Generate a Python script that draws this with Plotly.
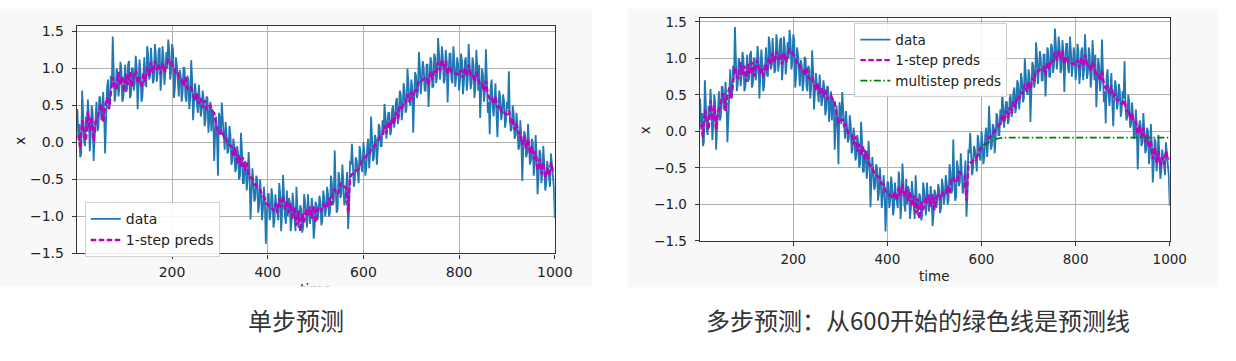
import plotly.graph_objects as go

# ---------------- data ----------------
# values at t = 4, 8, ..., 1000
time_even = list(range(4, 1001, 4))
data_x = [
    0.10, -0.20, 0.70, 0.02, 0.35, 0.58, -0.12, 0.50, -0.25, 0.30,
    0.15, 0.62, 0.30, 0.68, -0.15, 0.72, 0.45, 0.90, 1.43, 0.55,
    1.00, 0.62, 1.09, 0.55, 0.95, 0.68, 1.05, 0.60, 1.00, 0.70,
    1.17, 0.45, 1.12, 0.55, 1.05, 0.78, 1.30, 0.85, 1.28, 0.80,
    1.33, 0.82, 1.25, 0.70, 1.30, 0.78, 1.22, 1.39, 0.85, 1.33,
    0.60, 1.15, 0.70, 0.98, 0.55, 1.02, 0.62, 0.90, 0.45, 1.11,
    0.30, 0.80, 0.45, 0.78, 0.35, 0.70, 0.22, 0.62, 0.13, 0.55,
    0.45, -0.25, 0.35, -0.45, 0.30, 0.54, 0.00, 0.28, -0.15, 0.22,
    -0.30, 0.05, -0.40, -0.05, -0.50, 0.13, -0.55, -0.25, -0.65, -0.13,
    -1.04, -0.35, -0.80, -0.45, -0.95, -0.50, -1.05, -0.60, -1.37, -0.70,
    -1.05, -0.62, -1.15, -0.70, -1.00, -0.55, -1.20, -0.44, -1.00, -0.65,
    -0.75, -1.20, -0.68, -1.10, -0.60, -1.15, -0.85, -1.22, -0.70, -1.05,
    -0.70, -1.10, -0.75, -1.30, -0.80, -1.05, -0.72, -1.12, -0.65, -1.00,
    -0.60, -1.00, -0.45, -0.85, -0.11, -0.95, -0.40, -0.75, -0.30, -0.85,
    -0.55, -1.17, -0.25, -0.02, -0.60, -0.20, -0.45, -0.05, -0.35, 0.00,
    -0.45, -0.05, -0.35, 0.35, -0.25, 0.10, -0.30, 0.25, -0.05, 0.30,
    0.52, 0.05, 0.40, 0.10, 0.45, 0.20, 0.55, 0.25, 0.70, 0.30,
    0.80, 0.40, 1.00, 0.55, 0.85, 0.13, 0.95, 0.60, 1.22, 0.65,
    1.10, 0.70, 1.05, 0.48, 1.15, 0.75, 1.20, 0.80, 1.41, 0.85,
    1.30, 0.80, 1.25, 0.54, 1.20, 0.85, 1.30, 0.75, 1.15, 0.70,
    1.20, 0.65, 1.10, 0.70, 1.33, 0.72, 1.15, 0.60, 1.25, 0.70,
    0.33, 1.00, 0.55, 1.26, 0.40, 0.11, 0.85, 0.35, 0.80, 0.07,
    0.70, 0.30, 0.65, 0.20, 0.55, 0.96, 0.15, 0.50, 0.05, 0.40,
    -0.10, 0.30, -0.52, 0.15, -0.20, 0.25, -0.30, 0.05, -0.45, 0.10,
    -0.70, -0.10, -0.55, -0.05, -0.65, -0.25, -0.50, -0.15, -0.45, -1.02,
]

# values at t = 2, 6, ..., 998
time_odd = list(range(2, 1000, 4))
data_x_mid = [
    0.45, 0.25, -0.15, 0.40, -0.05, 0.15, 0.35, 0.10, 0.40, 0.05,
    0.55, 0.20, 0.60, 0.35, 0.40, 0.30, 0.85, 0.50, 0.75, 0.95,
    0.65, 0.95, 0.75, 0.98, 0.60, 1.05, 0.72, 1.10, 0.65, 1.00,
    0.80, 1.00, 0.70, 0.95, 0.62, 1.15, 0.75, 1.20, 0.90, 1.10,
    0.85, 1.20, 0.95, 1.28, 0.90, 1.15, 0.95, 1.00, 1.25, 0.95,
    1.25, 0.75, 1.05, 0.62, 0.90, 0.68, 1.00, 0.55, 0.85, 0.60,
    0.85, 0.50, 0.65, 0.40, 0.62, 0.45, 0.58, 0.30, 0.60, 0.35,
    0.15, 0.40, 0.10, 0.05, 0.40, 0.10, 0.30, -0.10, 0.10, -0.10,
    0.10, -0.25, -0.05, -0.35, -0.15, -0.45, -0.10, -0.55, -0.30, -0.50,
    -0.40, -0.70, -0.55, -0.75, -0.50, -0.85, -0.70, -0.90, -0.80, -1.00,
    -0.70, -0.95, -0.75, -1.05, -0.85, -1.05, -0.70, -0.95, -0.75, -1.10,
    -1.00, -0.80, -1.05, -0.85, -1.20, -0.80, -1.05, -0.90, -1.15, -0.80,
    -1.15, -0.85, -1.00, -0.90, -1.15, -0.85, -0.95, -0.80, -1.05, -0.75,
    -0.90, -0.70, -0.95, -0.55, -0.80, -0.60, -0.90, -0.50, -0.70, -0.55,
    -0.80, -0.40, -0.90, -0.30, -0.35, -0.50, -0.25, -0.55, -0.15, -0.40,
    -0.15, -0.35, 0.05, -0.15, 0.10, -0.20, 0.05, -0.10, 0.20, -0.05,
    0.10, 0.35, 0.25, 0.40, 0.15, 0.50, 0.30, 0.60, 0.35, 0.65,
    0.45, 0.70, 0.45, 0.80, 0.50, 0.75, 0.55, 0.90, 0.70, 1.00,
    0.85, 1.00, 0.70, 1.05, 0.80, 1.10, 0.75, 1.15, 0.90, 1.20,
    1.00, 1.15, 0.85, 1.10, 0.95, 1.20, 0.80, 1.10, 0.90, 1.05,
    0.85, 1.10, 0.80, 1.15, 0.85, 1.05, 0.80, 1.05, 0.75, 1.00,
    1.05, 0.65, 0.90, 0.70, 0.85, 0.55, 0.75, 0.50, 0.55, 0.40,
    0.45, 0.60, 0.40, 0.55, 0.30, 0.45, 0.35, 0.20, 0.40, 0.10,
    0.20, -0.05, 0.05, -0.10, 0.10, -0.15, 0.00, -0.25, 0.00, -0.30,
    -0.20, -0.45, -0.15, -0.40, -0.30, -0.55, -0.35, -0.60, -0.30, -0.60,
]

# 1-step predictions at t = 4, 8, ..., 1000
onestep_preds = [
    0.10, -0.08, 0.30, 0.12, 0.02, 0.42, 0.15, 0.35, 0.02, 0.28,
    0.32, 0.45, 0.52, 0.28, 0.48, 0.60, 0.45, 0.70, 0.88, 0.75,
    0.72, 0.95, 0.78, 0.90, 0.68, 0.92, 0.78, 0.95, 0.75, 0.90,
    0.98, 0.80, 0.88, 0.74, 0.93, 0.82, 1.02, 0.90, 1.08, 0.94,
    1.10, 0.98, 1.05, 0.92, 1.08, 0.95, 1.02, 1.12, 1.10, 1.05,
    1.02, 0.92, 0.93, 0.85, 0.85, 0.76, 0.88, 0.72, 0.75, 0.74,
    0.64, 0.56, 0.67, 0.52, 0.60, 0.47, 0.57, 0.44, 0.48, 0.50,
    0.42, 0.40, 0.24, 0.12, 0.13, 0.17, 0.08, 0.09, -0.02, -0.04,
    -0.05, -0.18, -0.07, -0.28, -0.17, -0.33, -0.20, -0.38, -0.27, -0.43,
    -0.47, -0.49, -0.57, -0.58, -0.62, -0.64, -0.72, -0.73, -0.82, -0.84,
    -0.87, -0.88, -0.92, -0.83, -0.95, -0.76, -0.88, -0.72, -0.91, -0.78,
    -0.95, -0.82, -1.03, -0.88, -1.12, -0.92, -1.20, -0.96, -1.08, -0.90,
    -0.98, -0.87, -1.03, -0.86, -1.08, -0.90, -0.88, -0.93, -0.83, -0.88,
    -0.88, -0.75, -0.85, -0.67, -0.63, -0.70, -0.68, -0.55, -0.58, -0.60,
    -0.61, -0.95, -0.47, -0.43, -0.42, -0.38, -0.37, -0.33, -0.25, -0.22,
    -0.19, -0.17, -0.17, -0.08, -0.07, -0.03, 0.01, 0.05, 0.08, 0.10,
    0.23, 0.12, 0.28, 0.19, 0.33, 0.25, 0.41, 0.32, 0.48, 0.45,
    0.53, 0.52, 0.65, 0.55, 0.68, 0.57, 0.73, 0.69, 0.83, 0.82,
    0.85, 0.87, 0.88, 0.77, 0.95, 0.85, 0.98, 0.95, 1.08, 0.97,
    1.12, 0.99, 1.10, 0.92, 1.03, 0.95, 0.95, 0.93, 0.93, 0.91,
    0.98, 0.87, 1.01, 0.89, 1.05, 0.92, 0.93, 0.82, 0.95, 0.85,
    0.77, 0.78, 0.69, 0.83, 0.65, 0.59, 0.61, 0.52, 0.63, 0.47,
    0.51, 0.42, 0.43, 0.39, 0.38, 0.43, 0.27, 0.31, 0.17, 0.25,
    0.12, 0.13, -0.03, 0.08, -0.08, 0.05, -0.15, -0.05, -0.23, -0.12,
    -0.38, -0.22, -0.43, -0.27, -0.48, -0.35, -0.45, -0.27, -0.38, -0.37,
]

multi_time = [604, 612, 620, 628, 636, 644, 652, 1000]
multistep_preds = [-0.19, -0.16, -0.13, -0.11, -0.095, -0.087, -0.085, -0.085]

x_ticks = [200, 400, 600, 800, 1000]
x_ticktext = ["200", "400", "600", "800", "1000"]
y_ticks = [-1.5, -1.0, -0.5, 0.0, 0.5, 1.0, 1.5]
y_ticktext = ["\u22121.5", "\u22121.0", "\u22120.5", "0.0", "0.5", "1.0", "1.5"]

captions = ["单步预测", "多步预测：从600开始的绿色线是预测线"]

# merge the two read series in time order
time_all, data_all = [], []
for t_o, v_o, t_e, v_e in zip(time_odd, data_x_mid, time_even, data_x):
    time_all += [t_o, t_e]
    data_all += [v_o, v_e]

# ---------------- layout helpers ----------------
W, H = 1236, 361
def px(x):
    return x / W
def py(y):
    return 1 - y / H

BLUE = "#1f77b4"
MAG = "#bf00bf"
GREEN = "#008000"
FONT = "DejaVu Sans"
TXT = "#222222"
SPINE = "#333333"
GRID = "#b0b0b0"
DATA_LINE = dict(color=BLUE, width=1.8)
PRED_LINE = dict(color=MAG, width=2.4, dash="5.5px,2.5px")

fig = go.Figure()

fig.add_trace(go.Scatter(x=time_all, y=data_all, mode="lines", name="data",
                         line=DATA_LINE, xaxis="x", yaxis="y", legend="legend"))
fig.add_trace(go.Scatter(x=time_even, y=onestep_preds, mode="lines", name="1-step preds",
                         line=PRED_LINE, xaxis="x", yaxis="y", legend="legend"))
fig.add_trace(go.Scatter(x=time_all, y=data_all, mode="lines", name="data",
                         line=DATA_LINE, xaxis="x2", yaxis="y2", legend="legend2"))
fig.add_trace(go.Scatter(x=time_even, y=onestep_preds, mode="lines", name="1-step preds",
                         line=PRED_LINE, xaxis="x2", yaxis="y2", legend="legend2"))
fig.add_trace(go.Scatter(x=multi_time, y=multistep_preds, mode="lines", name="multistep preds",
                         line=dict(color=GREEN, width=1.8, dash="7px,2.5px,1.5px,2.5px"),
                         xaxis="x2", yaxis="y2", legend="legend2"))

# clipped "time" label of the left panel (the panel crops it)
fig.add_trace(go.Scatter(x=[0.5333], y=[-0.014], mode="text", text=["time"],
                         textfont=dict(family=FONT, size=14, color=TXT),
                         textposition="middle center", cliponaxis=True,
                         showlegend=False, hoverinfo="skip", xaxis="x3", yaxis="y3"))

def xax(domain, anchor, size):
    return dict(domain=domain, anchor=anchor, range=[1, 1000], tickmode="array",
                tickvals=x_ticks, ticktext=x_ticktext, ticks="outside", ticklen=4,
                tickwidth=1, tickcolor=SPINE, showline=True, mirror=True,
                linecolor=SPINE, linewidth=1.2, showgrid=True, gridcolor=GRID,
                gridwidth=1, zeroline=False, tickfont=dict(family=FONT, size=size, color=TXT),
                ticklabelstandoff=2)

def yax(domain, anchor, rng, size):
    return dict(domain=domain, anchor=anchor, range=rng, tickmode="array",
                tickvals=y_ticks, ticktext=y_ticktext, ticks="outside", ticklen=4,
                tickwidth=1, tickcolor=SPINE, showline=True, mirror=True,
                linecolor=SPINE, linewidth=1.2, showgrid=True, gridcolor=GRID,
                gridwidth=1, zeroline=False, tickfont=dict(family=FONT, size=size, color=TXT),
                ticklabelstandoff=5)

shapes = [
    dict(type="rect", xref="paper", yref="paper", x0=px(0), x1=px(601), y0=py(292), y1=py(5),
         fillcolor="#f8f8f8", line=dict(width=0), layer="below"),
    dict(type="rect", xref="paper", yref="paper", x0=px(637), x1=px(1236), y0=py(293), y1=py(5),
         fillcolor="#f8f8f8", line=dict(width=0), layer="below"),
    dict(type="rect", xref="paper", yref="paper", x0=px(78), x1=px(563), y0=py(258), y1=py(23),
         fillcolor="white", line=dict(width=0), layer="below"),
    dict(type="rect", xref="paper", yref="paper", x0=px(710), x1=px(1187), y0=py(245), y1=py(14),
         fillcolor="white", line=dict(width=0), layer="below"),
]

def ann(text, x, y, size, family=FONT, color=TXT, angle=0):
    return dict(text=text, x=px(x), y=py(y), xref="paper", yref="paper", showarrow=False,
                xanchor="center", yanchor="middle", textangle=angle,
                font=dict(family=family, size=size, color=color))

annotations = [
    ann("x", 21, 142, 14, angle=-90),
    ann("x", 654, 130, 13.5, angle=-90),
    ann("time", 948, 281, 13.5),
    ann(captions[0], 300, 326, 24, family="Noto Sans CJK SC", color="#333333"),
    ann(captions[1], 932, 326, 24, family="Noto Sans CJK SC", color="#333333"),
]

fig.update_layout(
    width=W, height=H, margin=dict(l=0, r=0, t=0, b=0),
    paper_bgcolor="white", plot_bgcolor="rgba(0,0,0,0)",
    xaxis=xax([px(78), px(563)], "y", 14),
    yaxis=yax([py(258), py(23)], "x", [-1.5, 1.57], 14),
    xaxis2=xax([px(710), px(1187)], "y2", 13.5),
    yaxis2=yax([py(245), py(14)], "x2", [-1.5, 1.56], 13.5),
    xaxis3=dict(domain=[px(0), px(601)], anchor="y3", range=[0, 1], visible=False),
    yaxis3=dict(domain=[py(292), py(5)], anchor="x3", range=[0, 1], visible=False),
    shapes=shapes,
    annotations=annotations,
    showlegend=True,
    legend=dict(x=px(86), y=py(205), xanchor="left", yanchor="top",
                bgcolor="rgba(255,255,255,0.9)", bordercolor="#d0d0d0", borderwidth=1,
                font=dict(family=FONT, size=14, color=TXT), tracegroupgap=0,
                itemwidth=30),
    legend2=dict(x=px(867), y=py(20), xanchor="left", yanchor="top",
                 bgcolor="rgba(255,255,255,0.9)", bordercolor="#d0d0d0", borderwidth=1,
                 font=dict(family=FONT, size=13.5, color=TXT), tracegroupgap=0,
                 itemwidth=30),
)

fig.write_html(
    "out.html",
    config={"displayModeBar": False},
    post_script=(
        "document.documentElement.style.margin='0';"
        "document.body.style.margin='0';"
        "document.body.style.padding='0';"
        "document.documentElement.style.overflow='hidden';"
        "document.body.style.overflow='hidden';"
    ),
)
